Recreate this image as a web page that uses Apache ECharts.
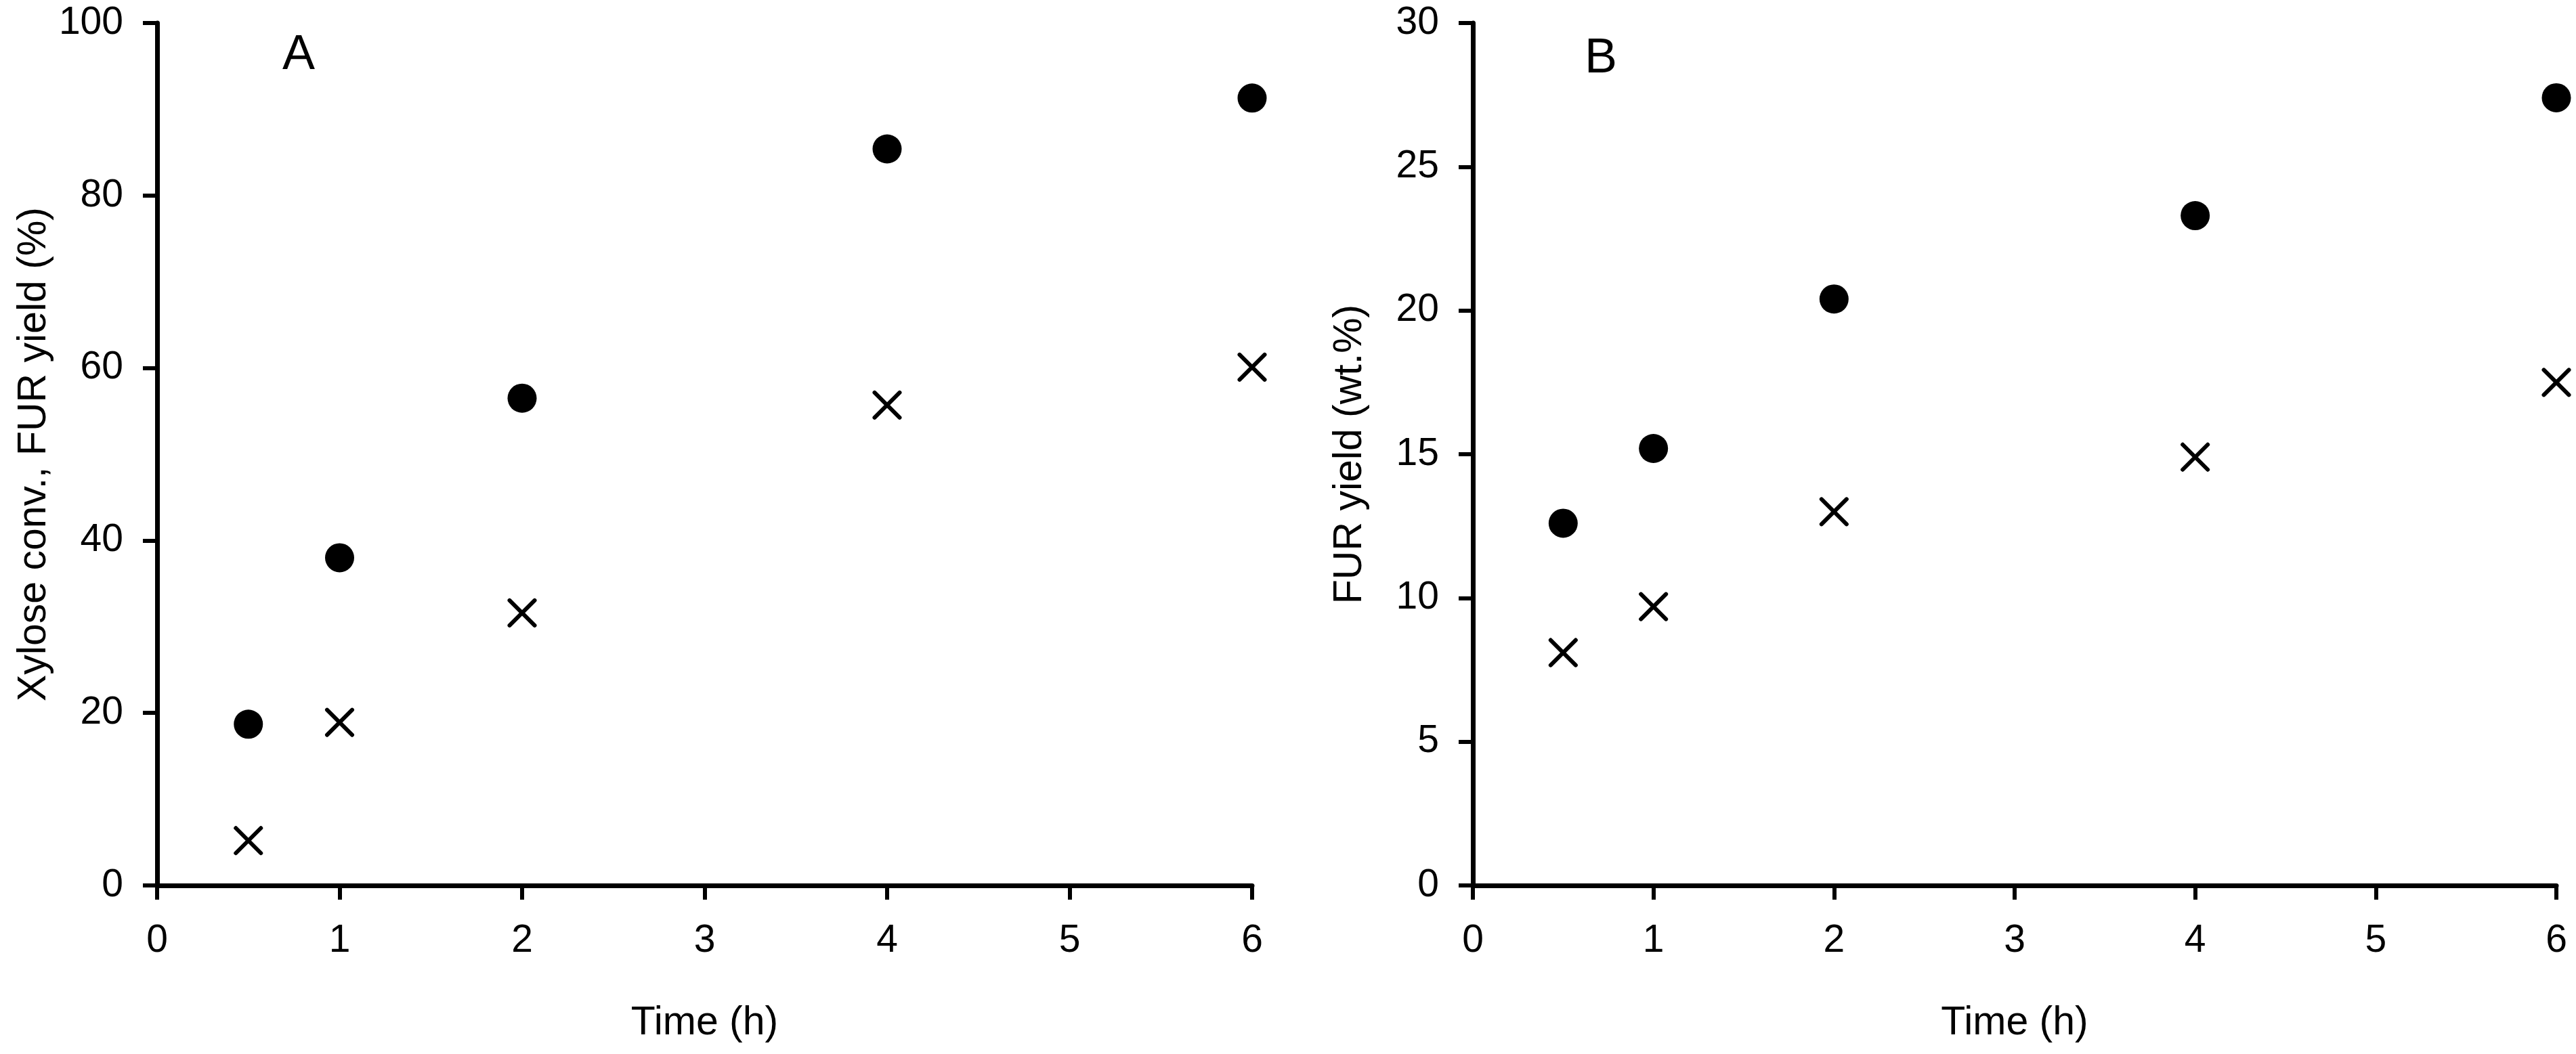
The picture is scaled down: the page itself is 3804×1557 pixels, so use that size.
<!DOCTYPE html>
<html>
<head>
<meta charset="utf-8">
<script src="https://cdn.jsdelivr.net/npm/echarts@6/dist/echarts.min.js"></script>
<style>
  html, body { margin: 0; padding: 0; background: #fff; }
  #chart { width: 3804px; height: 1557px; }
</style>
</head>
<body>
<div id="chart"></div>
<script>
// reaction times (h)
var times = [0.5, 1, 2, 4, 6];

// panel A: xylose conversion (dots) and FUR yield (crosses), %
var convA = [18.7, 38.0, 56.5, 85.4, 91.3];
var yieldA = [5.2, 18.9, 31.6, 55.7, 60.1];

// panel B: FUR yield, wt.%
var dotsB = [12.6, 15.2, 20.4, 23.3, 27.4];
var crossB = [8.1, 9.7, 13.0, 14.9, 17.5];

var font = "'Liberation Sans', Arial, sans-serif";
var crossPath = 'path://M0,0L10,10M10,0L0,10';

function pairs(xs, ys) {
    var res = [];
    for (var i = 0; i < xs.length; i++) {
        res.push([xs[i], ys[i]]);
    }
    return res;
}

function xAxisOpt(idx) {
    return {
        gridIndex: idx,
        type: 'value',
        min: 0,
        max: 6,
        interval: 1,
        name: 'Time (h)',
        nameLocation: 'middle',
        nameGap: 174,
        nameTextStyle: { color: '#000', fontSize: 59, fontFamily: font },
        axisLine: { onZero: false, lineStyle: { color: '#000', width: 7 } },
        axisTick: { length: 21, lineStyle: { color: '#000', width: 6 } },
        axisLabel: { color: '#000', fontSize: 57, fontFamily: font, margin: 54 },
        splitLine: { show: false }
    };
}

function yAxisOpt(idx, max, step, name) {
    return {
        gridIndex: idx,
        type: 'value',
        min: 0,
        max: max,
        interval: step,
        name: name,
        nameLocation: 'middle',
        nameGap: 152,
        nameTextStyle: { color: '#000', fontSize: 59, fontFamily: font },
        axisLine: { onZero: false, lineStyle: { color: '#000', width: 7 } },
        axisTick: { length: 21, lineStyle: { color: '#000', width: 6 } },
        axisLabel: { color: '#000', fontSize: 57, fontFamily: font, margin: 50 },
        splitLine: { show: false }
    };
}

function dots(idx, ys) {
    return {
        type: 'scatter',
        xAxisIndex: idx,
        yAxisIndex: idx,
        symbol: 'circle',
        symbolSize: 43,
        itemStyle: { color: '#000', opacity: 1 },
        data: pairs(times, ys)
    };
}

function crosses(idx, ys) {
    return {
        type: 'scatter',
        xAxisIndex: idx,
        yAxisIndex: idx,
        symbol: crossPath,
        symbolSize: 37,
        itemStyle: { color: 'none', borderColor: '#000', borderWidth: 6, borderCap: 'round', opacity: 1 },
        data: pairs(times, ys)
    };
}

var chart = echarts.init(document.getElementById('chart'), null, { renderer: 'canvas' });

var option = {
    backgroundColor: '#fff',
    animation: false,
    grid: [
        { left: 232, top: 34, width: 1617, height: 1274 },
        { left: 2175, top: 34, width: 1600, height: 1274 }
    ],
    xAxis: [xAxisOpt(0), xAxisOpt(1)],
    yAxis: [
        yAxisOpt(0, 100, 20, 'Xylose conv., FUR yield (%)'),
        yAxisOpt(1, 30, 5, 'FUR yield (wt.%)')
    ],
    graphic: [
        { type: 'text', left: 417, top: 46, style: { text: 'A', font: '72px ' + font, fill: '#000' } },
        { type: 'text', left: 2340, top: 51, style: { text: 'B', font: '72px ' + font, fill: '#000' } }
    ],
    series: [
        dots(0, convA),
        crosses(0, yieldA),
        dots(1, dotsB),
        crosses(1, crossB)
    ]
};

chart.setOption(option);
</script>
</body>
</html>
